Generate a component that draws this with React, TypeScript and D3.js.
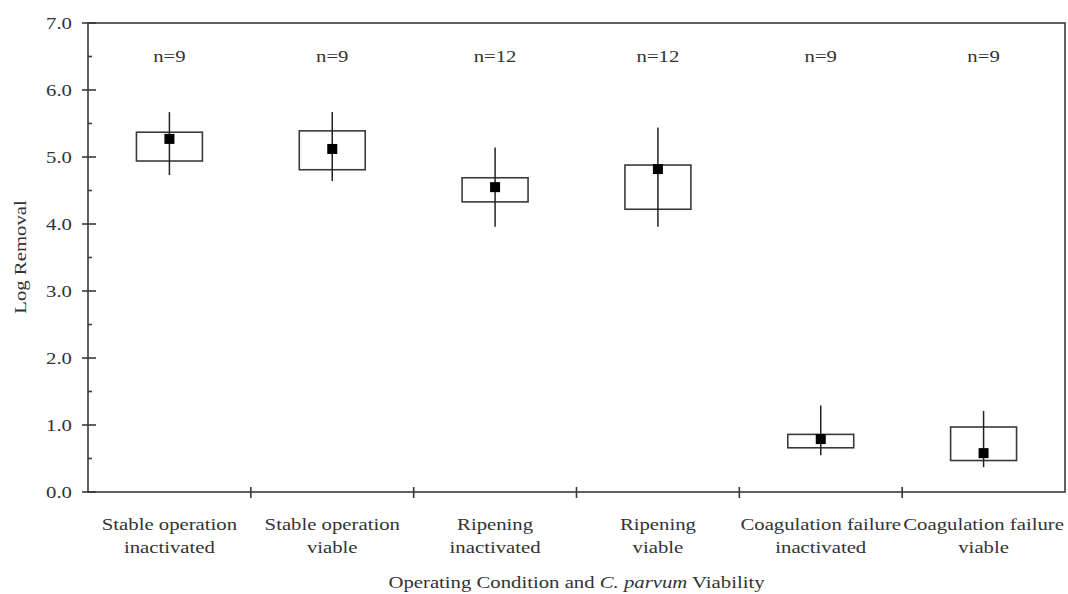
import React from "react";
import * as d3 from "d3";

const categories = [
  ["Stable operation", "inactivated"],
  ["Stable operation", "viable"],
  ["Ripening", "inactivated"],
  ["Ripening", "viable"],
  ["Coagulation failure", "inactivated"],
  ["Coagulation failure", "viable"],
];
const nLabels = ["n=9", "n=9", "n=12", "n=12", "n=9", "n=9"];
const boxTop = [5.37, 5.39, 4.69, 4.88, 0.86, 0.97];
const boxBottom = [4.94, 4.81, 4.33, 4.22, 0.66, 0.47];
const whiskerTop = [5.67, 5.67, 5.14, 5.44, 1.29, 1.21];
const whiskerBottom = [4.73, 4.64, 3.96, 3.96, 0.55, 0.37];
const medians = [5.27, 5.12, 4.55, 4.82, 0.79, 0.58];
const yTicks = [0, 1, 2, 3, 4, 5, 6, 7];
const yMinor = [0.5, 1.5, 2.5, 3.5, 4.5, 5.5, 6.5];

const W = 1068;
const H = 594;
const margin = { left: 88, right: 3, top: 23, bottom: 102 };
const SX = 1.22;
const FS = 17;

function T(props: { x: number; y: number; anchor?: string; rotate?: number; children: React.ReactNode; dy?: string }) {
  const { x, y, anchor = "middle", rotate = 0, children, dy } = props;
  return (
    <text
      transform={`translate(${x},${y}) rotate(${rotate}) scale(${SX},1)`}
      textAnchor={anchor}
      fontSize={FS}
      fill="#333"
      dy={dy}
    >
      {children}
    </text>
  );
}

export default function App() {
  const x0 = margin.left;
  const x1 = W - margin.right;
  const y0 = margin.top;
  const y1 = H - margin.bottom;
  const idx = categories.map((_, i) => String(i));
  const x = d3.scaleBand<string>().domain(idx).range([x0, x1]).paddingInner(0).paddingOuter(0);
  const y = d3.scaleLinear().domain([0, 7]).range([y1, y0]);
  const bw = x.bandwidth();
  const boxW = bw * 0.405;
  const font = "'Liberation Serif', 'Times New Roman', Times, 'DejaVu Serif', serif";
  const stroke = "#3a3a3a";
  const boundaries = d3.range(categories.length + 1).map((i) => x0 + i * bw);

  return (
    <svg width={W} height={H} style={{ position: "absolute", left: 0, top: 0, background: "#fff", fontFamily: font }}>
      <rect x={x0} y={y0} width={x1 - x0} height={y1 - y0} fill="none" stroke={stroke} strokeWidth={1.6} />
      {yTicks.map((t) => (
        <g key={"yt" + t}>
          <line x1={x0 - 6} x2={x0 + 8} y1={y(t)} y2={y(t)} stroke={stroke} strokeWidth={1.6} />
          <T x={72} y={y(t)} anchor="end" dy="0.35em">
            {t.toFixed(1)}
          </T>
        </g>
      ))}
      {yMinor.map((t) => (
        <line key={"ym" + t} x1={x0} x2={x0 + 4} y1={y(t)} y2={y(t)} stroke={stroke} strokeWidth={1.6} />
      ))}
      {boundaries.slice(1, -1).map((bx, i) => (
        <line key={"xb" + i} x1={bx} x2={bx} y1={y1 - 5} y2={y1 + 6} stroke={stroke} strokeWidth={1.6} />
      ))}
      {categories.map((c, i) => {
        const cx = (x(String(i)) as number) + bw / 2;
        return (
          <g key={"b" + i}>
            <rect
              x={cx - boxW / 2}
              y={y(boxTop[i])}
              width={boxW}
              height={y(boxBottom[i]) - y(boxTop[i])}
              fill="#fff"
              stroke={stroke}
              strokeWidth={1.6}
            />
            <line x1={cx} x2={cx} y1={y(whiskerTop[i])} y2={y(whiskerBottom[i])} stroke="#222" strokeWidth={1.5} />
            <rect x={cx - 5} y={y(medians[i]) - 5} width={10} height={10} fill="#000" />
            <T x={cx} y={62}>{nLabels[i]}</T>
            <T x={cx} y={530}>{c[0]}</T>
            <T x={cx} y={553}>{c[1]}</T>
          </g>
        );
      })}
      <T x={(x0 + x1) / 2} y={588}>
        Operating Condition and <tspan fontStyle="italic">C. parvum</tspan> Viability
      </T>
      <T x={26} y={257} rotate={-90}>
        Log Removal
      </T>
    </svg>
  );
}
